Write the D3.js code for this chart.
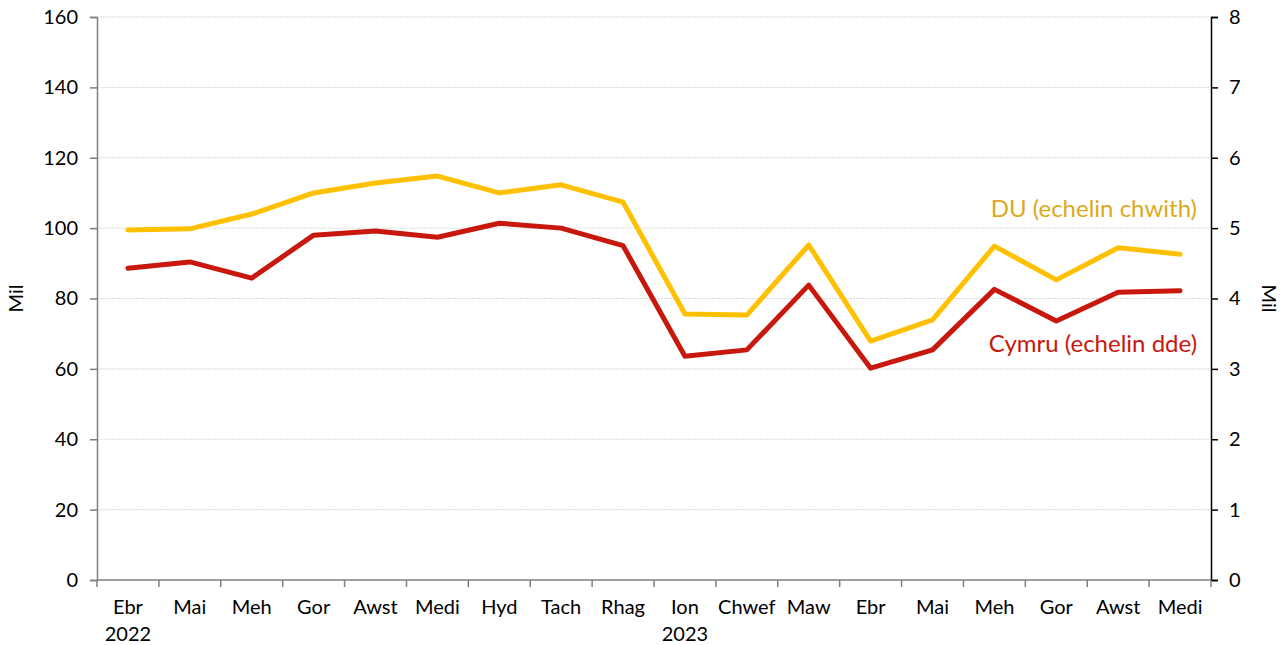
<!DOCTYPE html>
<html>
<head>
<meta charset="utf-8">
<script src="https://cdn.jsdelivr.net/npm/d3@7"></script>
<style>
  body { margin: 0; background: #fff; }
  text { font-family: Lato, "Noto Sans", sans-serif; }
</style>
</head>
<body>
<div id="chart"></div>
<script>
// months (Welsh) and the year shown under the first month of each year
const months = ['Ebr', 'Mai', 'Meh', 'Gor', 'Awst', 'Medi', 'Hyd', 'Tach', 'Rhag',
  'Ion', 'Chwef', 'Maw', 'Ebr', 'Mai', 'Meh', 'Gor', 'Awst', 'Medi'];
const years = ['2022', '', '', '', '', '', '', '', '', '2023', '', '', '', '', '', '', '', ''];

// UK, thousands (left axis)
const ukValues = [99.5, 99.8, 104, 110, 112.8, 114.8, 110, 112.3, 107.4,
  75.6, 75.3, 95.2, 67.9, 73.9, 94.9, 85.3, 94.4, 92.6];
// Wales, thousands (right axis)
const walesValues = [4.43, 4.52, 4.29, 4.90, 4.96, 4.87, 5.07, 5.00, 4.75,
  3.18, 3.27, 4.19, 3.01, 3.27, 4.13, 3.68, 4.09, 4.11];

const leftTicks = [0, 20, 40, 60, 80, 100, 120, 140, 160];
const rightTicks = [0, 1, 2, 3, 4, 5, 6, 7, 8];

const width = 1288;
const height = 645;
const marginLeft = 97;
const marginRight = 77;
const marginTop = 17;
const marginBottom = 65;
const innerW = width - marginLeft - marginRight;
const innerH = height - marginTop - marginBottom;

const ukColor = '#ffc000';
const walesColor = '#c8170d';
const fontSize = '20px';

const svg = d3.select('#chart').append('svg')
  .attr('width', width)
  .attr('height', height);

const g = svg.append('g')
  .attr('transform', `translate(${marginLeft}, ${marginTop})`);

const x = d3.scaleBand()
  .domain(d3.range(months.length))
  .range([0, innerW]);

const yLeft = d3.scaleLinear().domain([0, 160]).range([innerH, 0]);
const yRight = d3.scaleLinear().domain([0, 8]).range([innerH, 0]);

// gridlines
g.append('g')
  .selectAll('line')
  .data(leftTicks.slice(1))
  .join('line')
  .attr('x1', 0)
  .attr('x2', innerW)
  .attr('y1', d => yLeft(d))
  .attr('y2', d => yLeft(d))
  .attr('stroke', '#d9d9d9')
  .attr('stroke-width', 1)
  .attr('stroke-dasharray', '2,1');

// left axis
const leftAxis = g.append('g')
  .call(d3.axisLeft(yLeft).tickValues(leftTicks).tickSize(7).tickPadding(12));
leftAxis.select('.domain').attr('stroke', '#7f7f7f').attr('stroke-width', 1.5);
leftAxis.selectAll('.tick line').attr('stroke', '#7f7f7f').attr('stroke-width', 1.5);
leftAxis.selectAll('.tick text')
  .style('font-size', fontSize).attr('fill', '#000');

// right axis
const rightAxis = g.append('g')
  .attr('transform', `translate(${innerW}, 0)`)
  .call(d3.axisRight(yRight).tickValues(rightTicks).tickSize(7).tickPadding(11));
rightAxis.select('.domain').attr('stroke', '#000').attr('stroke-width', 1.5);
rightAxis.selectAll('.tick line').attr('stroke', '#000').attr('stroke-width', 1.5);
rightAxis.selectAll('.tick text')
  .style('font-size', fontSize).attr('fill', '#000');

// x axis with ticks between categories
const xAxis = g.append('g')
  .attr('transform', `translate(0, ${innerH})`);
xAxis.append('line')
  .attr('x1', 0).attr('x2', innerW)
  .attr('stroke', '#7f7f7f').attr('stroke-width', 1.5);
xAxis.selectAll('.xtick')
  .data(d3.range(months.length + 1))
  .join('line')
  .attr('class', 'xtick')
  .attr('x1', i => i * x.step())
  .attr('x2', i => i * x.step())
  .attr('y1', 0)
  .attr('y2', 7)
  .attr('stroke', '#7f7f7f')
  .attr('stroke-width', 1.5);
xAxis.selectAll('.xlabel')
  .data(months)
  .join('text')
  .attr('class', 'xlabel')
  .attr('x', (d, i) => x(i) + x.bandwidth() / 2)
  .attr('y', 34)
  .attr('text-anchor', 'middle')
  .style('font-size', fontSize)
  .text(d => d);
xAxis.selectAll('.ylabel')
  .data(years)
  .join('text')
  .attr('class', 'ylabel')
  .attr('x', (d, i) => x(i) + x.bandwidth() / 2)
  .attr('y', 61)
  .attr('text-anchor', 'middle')
  .style('font-size', fontSize)
  .text(d => d);

// axis titles
svg.append('text')
  .attr('transform', `translate(23, ${marginTop + innerH / 2}) rotate(-90)`)
  .attr('text-anchor', 'middle')
  .style('font-size', fontSize)
  .text('Mil');
svg.append('text')
  .attr('transform', `translate(${width - 26}, ${marginTop + innerH / 2}) rotate(90)`)
  .attr('text-anchor', 'middle')
  .style('font-size', fontSize)
  .text('Mil');

// lines
const cx = i => x(i) + x.bandwidth() / 2;
const ukLine = d3.line().x((d, i) => cx(i)).y(d => yLeft(d));
const walesLine = d3.line().x((d, i) => cx(i)).y(d => yRight(d));

g.append('path')
  .datum(ukValues)
  .attr('d', ukLine)
  .attr('fill', 'none')
  .attr('stroke', ukColor)
  .attr('stroke-width', 5)
  .attr('stroke-linejoin', 'round')
  .attr('stroke-linecap', 'round');

g.append('path')
  .datum(walesValues)
  .attr('d', walesLine)
  .attr('fill', 'none')
  .attr('stroke', walesColor)
  .attr('stroke-width', 5)
  .attr('stroke-linejoin', 'round')
  .attr('stroke-linecap', 'round');

// series labels
g.append('text')
  .attr('x', cx(17) + 17)
  .attr('y', yLeft(103.2))
  .attr('text-anchor', 'end')
  .attr('fill', '#dca81c')
  .style('font-size', '24px')
  .text('DU (echelin chwith)');

g.append('text')
  .attr('x', cx(17) + 17)
  .attr('y', yLeft(64.9))
  .attr('text-anchor', 'end')
  .attr('fill', walesColor)
  .style('font-size', '24px')
  .text('Cymru (echelin dde)');
</script>
</body>
</html>
